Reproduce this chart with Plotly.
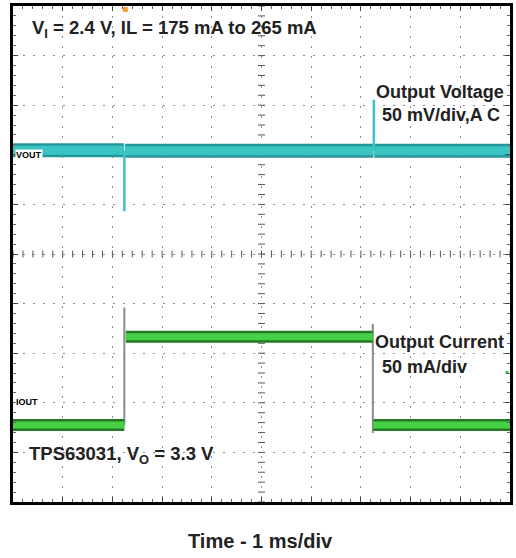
import numpy as np
import plotly.graph_objects as go

# ---- data (time in ms, vertical position in scope divisions, 0 = bottom) ----
vout_seg_t = [[0.0, 2.23], [2.25, 7.25], [7.27, 10.0]]
vout_seg_lvl = [7.09, 7.08, 7.08]
vout_spike_t = [2.24, 7.26]
vout_spike_peak = [5.86, 8.11]

iout_seg_t = [[0.0, 2.24], [2.27, 7.24], [7.25, 10.0]]
iout_seg_lvl = [1.55, 3.33, 1.55]
iout_edge_t = [2.24, 7.24]
iout_edge_from = [1.55, 3.59]
iout_edge_to = [3.92, 1.39]

TEAL_DARK = "#22979a"
TEAL = "#3cc4c4"
GREEN_DARK = "#237a23"
GREEN = "#45d045"
FONT = "Liberation Sans, Arial, sans-serif"
TXT = "#222222"

fig = go.Figure()

# grid decorations: centre crosshair tick marks
sub = np.round(np.arange(0, 10.0001, 0.2), 3)
fig.add_trace(go.Scatter(x=sub, y=[5] * len(sub), mode="markers",
                         marker=dict(symbol="line-ns", size=5, line=dict(width=1, color="#555")),
                         hoverinfo="skip", showlegend=False))
fig.add_trace(go.Scatter(x=[5] * len(sub), y=sub, mode="markers",
                         marker=dict(symbol="line-ew", size=5, line=dict(width=1, color="#555")),
                         hoverinfo="skip", showlegend=False))

def segs(seg_t, lvl):
    xs, ys = [], []
    for (a, b), v in zip(seg_t, lvl):
        xs += [a, b, None]
        ys += [v, v, None]
    return xs, ys

# VOUT band
xs, ys = segs(vout_seg_t, vout_seg_lvl)
fig.add_trace(go.Scatter(x=xs, y=ys, mode="lines", line=dict(color=TEAL_DARK, width=14),
                         hoverinfo="skip", showlegend=False))
fig.add_trace(go.Scatter(x=xs, y=ys, mode="lines", line=dict(color=TEAL, width=9),
                         hoverinfo="skip", showlegend=False))
# VOUT spikes
sx, sy = [], []
for t, p, v in zip(vout_spike_t, vout_spike_peak, vout_seg_lvl[1:]):
    sx += [t, t, None]
    sy += [v, p, None]
fig.add_trace(go.Scatter(x=sx, y=sy, mode="lines", line=dict(color=TEAL, width=2.5),
                         hoverinfo="skip", showlegend=False))

# IOUT edges (gray persistence)
ex, ey = [], []
for t, a, b in zip(iout_edge_t, iout_edge_from, iout_edge_to):
    ex += [t, t, None]
    ey += [a, b, None]
fig.add_trace(go.Scatter(x=ex, y=ey, mode="lines", line=dict(color="#8a8a8a", width=2),
                         hoverinfo="skip", showlegend=False))
# IOUT band
xs, ys = segs(iout_seg_t, iout_seg_lvl)
fig.add_trace(go.Scatter(x=xs, y=ys, mode="lines", line=dict(color=GREEN_DARK, width=12),
                         hoverinfo="skip", showlegend=False))
fig.add_trace(go.Scatter(x=xs, y=ys, mode="lines", line=dict(color=GREEN, width=7),
                         hoverinfo="skip", showlegend=False))

# small scope markers
fig.add_trace(go.Scatter(x=[2.26], y=[9.93], mode="markers",
                         marker=dict(symbol="square", size=5, color="#f0a030"),
                         cliponaxis=False, hoverinfo="skip", showlegend=False))
fig.add_trace(go.Scatter(x=[9.94], y=[2.61], mode="markers",
                         marker=dict(symbol="square", size=3, color="#3fbf3f"),
                         cliponaxis=False, hoverinfo="skip", showlegend=False))

L, R, T, B = 13, 513, 4, 502
def px(xp):
    return (xp - L) / (R - L)
def py(yp):
    return (B - yp) / (B - T)

anns = [
    dict(text="V<sub>I</sub> = 2.4 V, IL = 175 mA to 265 mA", x=px(30), y=py(27), size=18.5),
    dict(text="Output Voltage", x=px(376), y=py(90), size=18),
    dict(text="50 mV/div,A C", x=px(382), y=py(113), size=18),
    dict(text="Output Current", x=px(375), y=py(341), size=18),
    dict(text="50 mA/div", x=px(382), y=py(366), size=18),
    dict(text="TPS63031, V<sub>O</sub> = 3.3 V", x=px(27), y=py(455), size=18.5),
]
for a in anns:
    fig.add_annotation(text="<b>%s</b>" % a["text"], x=a["x"], y=a["y"], xref="paper", yref="paper",
                       xanchor="left", yanchor="middle", showarrow=False,
                       font=dict(family=FONT, size=a["size"], color=TXT))
for lab, yy in [("VOUT", 154), ("IOUT", 402)]:
    fig.add_annotation(text="<b>%s</b>" % lab, x=px(15), y=py(yy), xref="paper", yref="paper",
                       xanchor="left", yanchor="middle", showarrow=False, bgcolor="white",
                       borderpad=0, font=dict(family=FONT, size=9, color="#000"))
fig.add_annotation(text="<b>Time - 1 ms/div</b>", x=px(262), y=py(541), xref="paper", yref="paper",
                   xanchor="center", yanchor="middle", showarrow=False,
                   font=dict(family=FONT, size=20, color=TXT))

axis_common = dict(range=[0, 10], dtick=1, tick0=0, showgrid=True, gridcolor="#8c8c8c",
                   griddash="2px,8px", gridwidth=1, zeroline=False, showticklabels=False,
                   showline=True, linecolor="#000", linewidth=2.5, mirror="ticks",
                   ticks="inside", ticklen=5, tickcolor="#444",
                   minor=dict(dtick=0.2, ticks="inside", ticklen=3, tickcolor="#666", showgrid=False),
                   fixedrange=True)
fig.update_layout(
    width=516, height=558,
    margin=dict(l=L, r=516 - R, t=T, b=558 - B),
    paper_bgcolor="white", plot_bgcolor="white",
    xaxis=axis_common, yaxis=axis_common,
    showlegend=False,
)
fig.write_html("out.html")
